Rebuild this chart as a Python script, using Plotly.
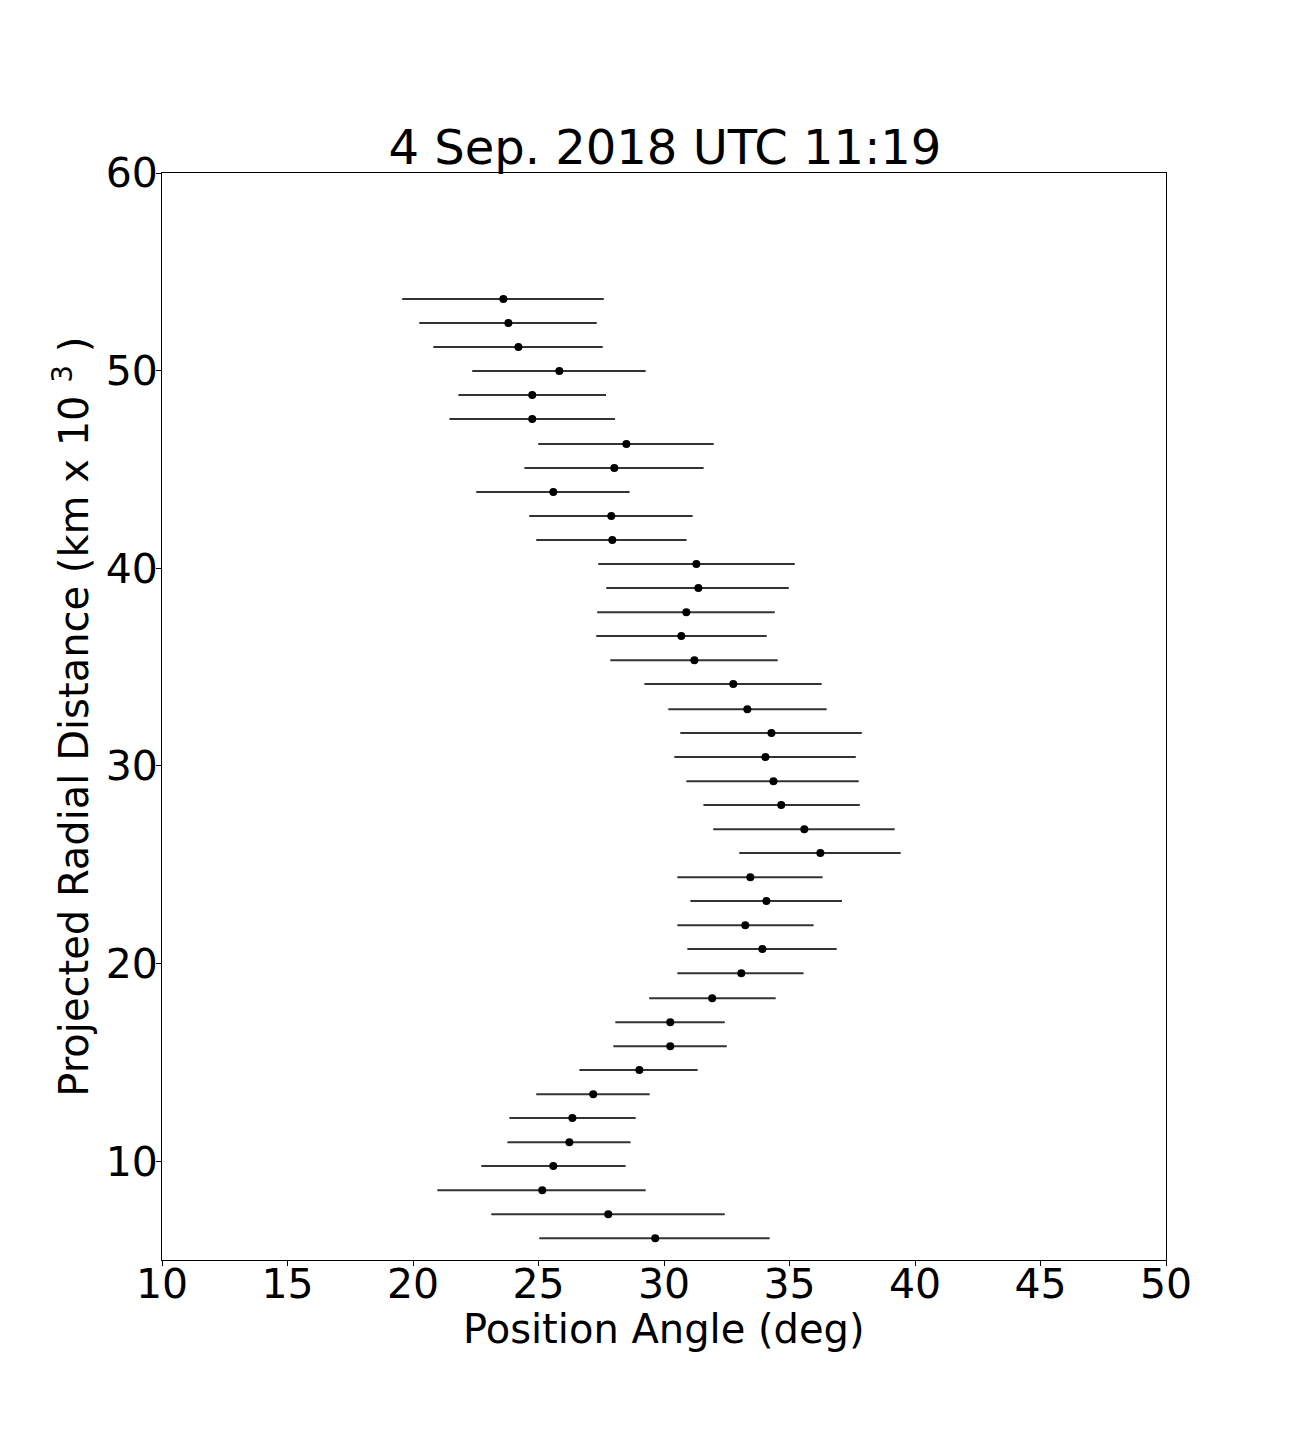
import plotly.graph_objects as go

distance = [53.62, 52.41, 51.19, 49.98, 48.77, 47.55, 46.29, 45.07, 43.86, 42.64,
            41.43, 40.21, 39.00, 37.78, 36.57, 35.35, 34.14, 32.87, 31.66, 30.45,
            29.23, 28.02, 26.80, 25.59, 24.37, 23.16, 21.94, 20.73, 19.51, 18.25,
            17.03, 15.82, 14.61, 13.39, 12.18, 10.96, 9.75, 8.53, 7.32, 6.10]
angle = [23.60, 23.80, 24.20, 25.83, 24.75, 24.75, 28.50, 28.02, 25.59, 27.90,
         27.94, 31.29, 31.37, 30.89, 30.69, 31.21, 32.76, 33.32, 34.28, 34.04,
         34.36, 34.67, 35.59, 36.23, 33.44, 34.08, 33.24, 33.92, 33.08, 31.92,
         30.25, 30.25, 29.02, 27.18, 26.35, 26.23, 25.59, 25.15, 27.78, 29.65]
angle_low = [19.57, 20.25, 20.81, 22.36, 21.81, 21.45, 24.99, 24.44, 22.52, 24.63,
             24.91, 27.38, 27.70, 27.34, 27.30, 27.86, 29.22, 30.17, 30.65, 30.41,
             30.89, 31.57, 31.96, 33.00, 30.53, 31.05, 30.53, 30.93, 30.53, 29.41,
             28.06, 27.98, 26.63, 24.91, 23.84, 23.76, 22.72, 20.97, 23.12, 25.03]
angle_high = [27.60, 27.32, 27.56, 29.27, 27.69, 28.05, 31.98, 31.58, 28.63, 31.14,
              30.90, 35.21, 34.97, 34.41, 34.09, 34.53, 36.28, 36.48, 37.88, 37.64,
              37.76, 37.80, 39.19, 39.43, 36.32, 37.09, 35.96, 36.88, 35.56, 34.45,
              32.42, 32.50, 31.34, 29.43, 28.87, 28.67, 28.47, 29.27, 32.42, 34.21]

x_ticks = [10, 15, 20, 25, 30, 35, 40, 45, 50]
y_ticks = [10, 20, 30, 40, 50, 60]

err_plus = [h - a for h, a in zip(angle_high, angle)]
err_minus = [a - l for a, l in zip(angle, angle_low)]

font = "DejaVu Sans, Liberation Sans, sans-serif"

fig = go.Figure()
fig.add_trace(go.Scatter(
    x=angle, y=distance, mode="markers",
    marker=dict(color="black", size=8),
    error_x=dict(type="data", symmetric=False, array=err_plus, arrayminus=err_minus,
                 color="#333333", thickness=2, width=0),
    showlegend=False,
))

axis_common = dict(
    showline=True, linecolor="black", linewidth=1, mirror=True,
    ticks="outside", ticklen=5, tickwidth=1, tickcolor="black",
    showgrid=False, zeroline=False,
    tickfont=dict(family=font, size=41, color="black"),
)

fig.update_layout(
    width=1296, height=1440,
    paper_bgcolor="white", plot_bgcolor="white",
    margin=dict(l=154, r=138, t=165, b=188, autoexpand=False),
    title=dict(text="4 Sep. 2018 UTC 11:19", x=0.5069, xanchor="center",
               y=1 - 139 / 1440, yanchor="middle",
               font=dict(family=font, size=48, color="black")),
    xaxis=dict(range=[10, 50], tickvals=x_ticks, ticktext=[str(v) for v in x_ticks],
               ticklabelstandoff=-17, **axis_common),
    yaxis=dict(range=[5, 60], tickvals=y_ticks, ticktext=[str(v) for v in y_ticks],
               ticklabelstandoff=-10, **axis_common),
    annotations=[
        dict(text="Position Angle (deg)", xref="paper", yref="paper",
             x=0.5, y=-0.0635, xanchor="center", yanchor="middle", showarrow=False,
             font=dict(family=font, size=40, color="black")),
        dict(text="Projected Radial Distance (km x 10 <sup>3</sup> )", xref="paper", yref="paper",
             x=-0.0905, y=0.5, xanchor="center", yanchor="middle", textangle=-90,
             showarrow=False, font=dict(family=font, size=40, color="black")),
    ],
)

fig.write_html("out.html")
